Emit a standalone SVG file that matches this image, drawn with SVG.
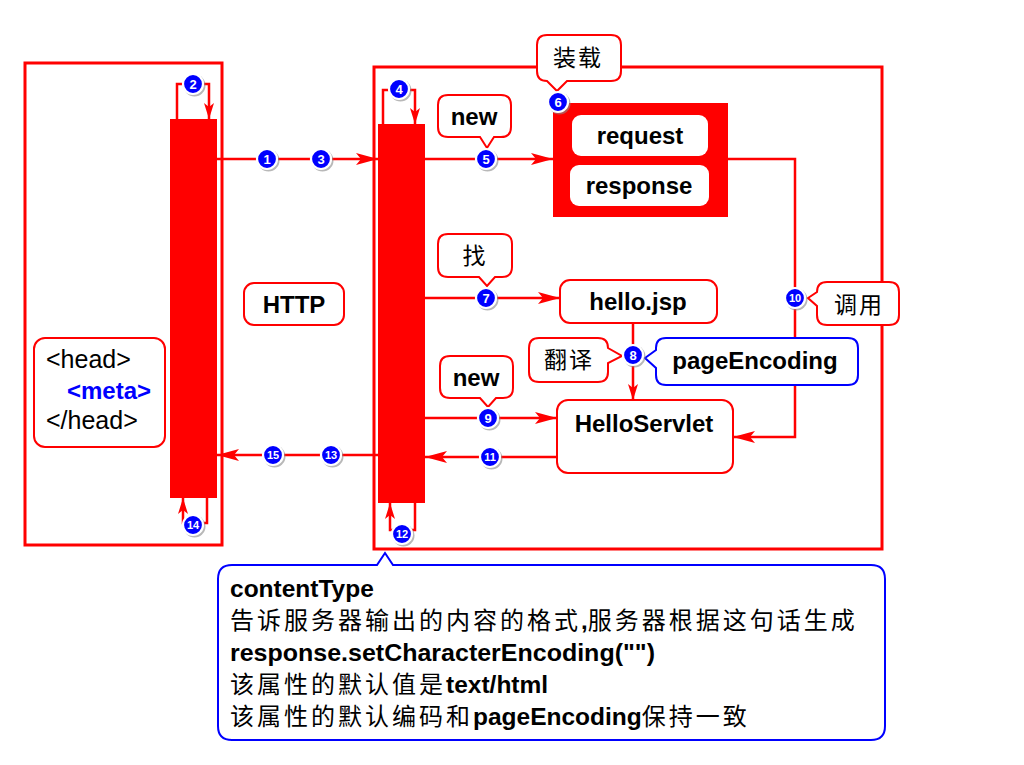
<svg xmlns="http://www.w3.org/2000/svg" width="1024" height="765" viewBox="0 0 1024 765">
<style>
.frame{fill:none;stroke:#ff0000;stroke-width:3}
.bar{fill:#ff0000}
.box{fill:#fff;stroke:#ff0000;stroke-width:2}
.bbox{fill:#fff;stroke:#0000ff;stroke-width:2}
.conn{fill:none;stroke:#ff0000;stroke-width:2.5}
.lat{font-family:"Liberation Sans",Arial,sans-serif;font-weight:bold;font-size:24px;fill:#000}
.cjk{font-family:"Noto Sans CJK SC",sans-serif;font-size:23px;fill:#000}
.bd circle.s{fill:#888;opacity:0.6}
.bd circle.c{fill:#0000ff;stroke:#fff;stroke-width:2.2}
.bd text{font-family:"Liberation Sans",Arial,sans-serif;font-weight:bold;font-size:13px;fill:#fff;text-anchor:middle}
</style>
<defs>
<marker id="ah" viewBox="0 0 22 12" refX="22" refY="6" markerWidth="22" markerHeight="12" markerUnits="userSpaceOnUse" orient="auto">
<path d="M0,0 L22,6 L0,12 L5,6 Z" fill="#ff0000"/>
</marker>
<marker id="ahs" viewBox="0 0 16 10" refX="16" refY="5" markerWidth="16" markerHeight="10" markerUnits="userSpaceOnUse" orient="auto">
<path d="M0,0 L16,5 L0,10 L4,5 Z" fill="#ff0000"/>
</marker>
</defs>
<rect width="1024" height="765" fill="#fff"/>

<g id="browser">
<rect class="frame" x="25" y="63" width="197" height="482"/>
<rect class="bar" x="170" y="119" width="47" height="379"/>
</g>
<g id="server">
<rect class="frame" x="374" y="67" width="508" height="482"/>
<rect class="bar" x="378" y="124" width="47" height="379"/>
</g>

<g id="connectors">
<path class="conn" d="M217,159 H378" marker-end="url(#ah)"/>
<path class="conn" d="M425,159 H553" marker-end="url(#ah)"/>
<path class="conn" d="M425,298 H560" marker-end="url(#ah)"/>
<path class="conn" d="M425,418 H557" marker-end="url(#ah)"/>
<path class="conn" d="M557,457 H425" marker-end="url(#ah)"/>
<path class="conn" d="M378,455 H217" marker-end="url(#ah)"/>
<path class="conn" d="M633,323 V400" marker-end="url(#ahs)"/>
<path class="conn" d="M728,159 H795 V437 H733" marker-end="url(#ah)"/>
<path class="conn" d="M177,119 V84 H209 V119" marker-end="url(#ahs)"/>
<path class="conn" d="M383,124 V90 H415 V124" marker-end="url(#ahs)"/>
<path class="conn" d="M207,498 V523 H183 V498" marker-end="url(#ahs)"/>
<path class="conn" d="M415,503 V530 H390 V503" marker-end="url(#ahs)"/>
</g>

<g id="container">
<rect x="553" y="103" width="175" height="114" fill="#ff0000"/>
</g>
<g id="request">
<rect x="572" y="115" width="136" height="41" rx="9" fill="#fff"/>
<text class="lat" x="640" y="144" text-anchor="middle">request</text>
</g>
<g id="response">
<rect x="570" y="165" width="139" height="41" rx="9" fill="#fff"/>
<text class="lat" x="639" y="194" text-anchor="middle">response</text>
</g>

<g id="hellojsp">
<rect class="box" x="560" y="280" width="157" height="43" rx="10"/>
<text class="lat" x="638" y="310" text-anchor="middle">hello.jsp</text>
</g>
<g id="helloservlet">
<rect class="box" x="557" y="400" width="176" height="73" rx="11"/>
<text class="lat" x="644" y="432" text-anchor="middle">HelloServlet</text>
</g>
<g id="http">
<rect class="box" x="244" y="283" width="100" height="42" rx="10"/>
<text class="lat" x="294" y="313" text-anchor="middle">HTTP</text>
</g>
<g id="head">
<rect class="box" x="34" y="338" width="131" height="109" rx="11"/>
<text class="lat" x="46" y="368" style="font-weight:normal;font-size:25px">&lt;head&gt;</text>
<text class="lat" x="67" y="399" style="fill:#0000ff">&lt;meta&gt;</text>
<text class="lat" x="46" y="429" style="font-weight:normal;font-size:25px">&lt;/head&gt;</text>
</g>

<g id="callout-new1">
<path class="box" d="M448,95 H501 Q511,95 511,105 V127 Q511,137 501,137 H494 L487,148 L480,137 H448 Q438,137 438,127 V105 Q438,95 448,95 Z"/>
<text class="lat" x="474" y="125" text-anchor="middle">new</text>
</g>
<g id="callout-load">
<path class="box" d="M547,35 H611 Q621,35 621,45 V71 Q621,81 611,81 H567 L557,91 L547,81 Q537,81 537,71 V45 Q537,35 547,35 Z"/>
<text class="cjk" x="578" y="66" text-anchor="middle" letter-spacing="2">装载</text>
</g>
<g id="callout-find">
<path class="box" d="M448,234 H502 Q512,234 512,244 V267 Q512,277 502,277 H495 L487,286 L479,277 H448 Q438,277 438,267 V244 Q438,234 448,234 Z"/>
<text class="cjk" x="474" y="264" text-anchor="middle">找</text>
</g>
<g id="callout-translate">
<path class="box" d="M539,338 H598 Q608,338 608,348 L622,356 L608,363 V372 Q608,382 598,382 H539 Q529,382 529,372 V348 Q529,338 539,338 Z"/>
<text class="cjk" x="569" y="368" text-anchor="middle" letter-spacing="2">翻译</text>
</g>
<g id="callout-pageencoding">
<path class="bbox" d="M666,338 H848 Q858,338 858,348 V375 Q858,385 848,385 H666 Q656,385 656,375 V368 L645,358 L656,350 V348 Q656,338 666,338 Z"/>
<text class="lat" x="755" y="369" text-anchor="middle">pageEncoding</text>
</g>
<g id="callout-new2">
<path class="box" d="M450,356 H503 Q513,356 513,366 V388 Q513,398 503,398 H496 L488,407 L480,398 H450 Q440,398 440,388 V366 Q440,356 450,356 Z"/>
<text class="lat" x="476" y="386" text-anchor="middle">new</text>
</g>
<g id="callout-call">
<path class="box" d="M827,282 H889 Q899,282 899,292 V315 Q899,325 889,325 H827 Q817,325 817,315 V306 L808,298 L817,292 Q817,282 827,282 Z"/>
<text class="cjk" x="859" y="313" text-anchor="middle" letter-spacing="2">调用</text>
</g>

<g id="callout-contenttype">
<path class="bbox" d="M232,565 H377 L385,553 L393,565 H871 Q885,565 885,579 V726 Q885,740 871,740 H232 Q218,740 218,726 V579 Q218,565 232,565 Z"/>
<text class="lat" x="230" y="597" style="font-size:24.5px">contentType</text>
<text x="230" y="629"><tspan class="cjk" style="font-size:24px" letter-spacing="3">告诉服务器输出的内容的格式</tspan><tspan class="lat" style="font-size:24px">,</tspan><tspan class="cjk" style="font-size:24px" letter-spacing="3">服务器根据这句话生成</tspan></text>
<text class="lat" x="230" y="661" style="font-size:24.5px" textLength="425" lengthAdjust="spacingAndGlyphs">response.setCharacterEncoding("")</text>
<text x="230" y="693"><tspan class="cjk" style="font-size:24px" letter-spacing="3">该属性的默认值是</tspan><tspan class="lat" style="font-size:24.5px">text/html</tspan></text>
<text x="230" y="725"><tspan class="cjk" style="font-size:24px" letter-spacing="3">该属性的默认编码和</tspan><tspan class="lat" style="font-size:24.5px">pageEncoding</tspan><tspan class="cjk" style="font-size:24px" letter-spacing="3">保持一致</tspan></text>
</g>

<g id="badges">
<g class="bd" id="b1"><circle class="s" cx="268.5" cy="160.5" r="11"/><circle class="c" cx="267" cy="159" r="10"/><text x="267" y="163.5">1</text></g>
<g class="bd" id="b2"><circle class="s" cx="194.5" cy="85.5" r="11"/><circle class="c" cx="193" cy="84" r="10"/><text x="193" y="88.5">2</text></g>
<g class="bd" id="b3"><circle class="s" cx="322.5" cy="160.5" r="11"/><circle class="c" cx="321" cy="159" r="10"/><text x="321" y="163.5">3</text></g>
<g class="bd" id="b4"><circle class="s" cx="400.5" cy="90.5" r="11"/><circle class="c" cx="399" cy="89" r="10"/><text x="399" y="93.5">4</text></g>
<g class="bd" id="b5"><circle class="s" cx="487.5" cy="160.5" r="11"/><circle class="c" cx="486" cy="159" r="10"/><text x="486" y="163.5">5</text></g>
<g class="bd" id="b6"><circle class="s" cx="559.5" cy="103.5" r="11"/><circle class="c" cx="558" cy="102" r="10"/><text x="558" y="106.5">6</text></g>
<g class="bd" id="b7"><circle class="s" cx="487.5" cy="299.5" r="11"/><circle class="c" cx="486" cy="298" r="10"/><text x="486" y="302.5">7</text></g>
<g class="bd" id="b8"><circle class="s" cx="634.5" cy="356.5" r="11"/><circle class="c" cx="633" cy="355" r="10"/><text x="633" y="359.5">8</text></g>
<g class="bd" id="b9"><circle class="s" cx="489.5" cy="419.5" r="11"/><circle class="c" cx="488" cy="418" r="10"/><text x="488" y="422.5">9</text></g>
<g class="bd" id="b10"><circle class="s" cx="796.5" cy="299.5" r="11"/><circle class="c" cx="795" cy="298" r="10"/><text x="795" y="302" style="font-size:11px">10</text></g>
<g class="bd" id="b11"><circle class="s" cx="491.5" cy="458.5" r="11"/><circle class="c" cx="490" cy="457" r="10"/><text x="490" y="461" style="font-size:11px">11</text></g>
<g class="bd" id="b12"><circle class="s" cx="403.5" cy="535.5" r="11"/><circle class="c" cx="402" cy="534" r="10"/><text x="402" y="538" style="font-size:11px">12</text></g>
<g class="bd" id="b13"><circle class="s" cx="332.5" cy="456.5" r="11"/><circle class="c" cx="331" cy="455" r="10"/><text x="331" y="459" style="font-size:11px">13</text></g>
<g class="bd" id="b14"><circle class="s" cx="194.5" cy="526.5" r="11"/><circle class="c" cx="193" cy="525" r="10"/><text x="193" y="529" style="font-size:11px">14</text></g>
<g class="bd" id="b15"><circle class="s" cx="274.5" cy="456.5" r="11"/><circle class="c" cx="273" cy="455" r="10"/><text x="273" y="459" style="font-size:11px">15</text></g>
</g>
</svg>
